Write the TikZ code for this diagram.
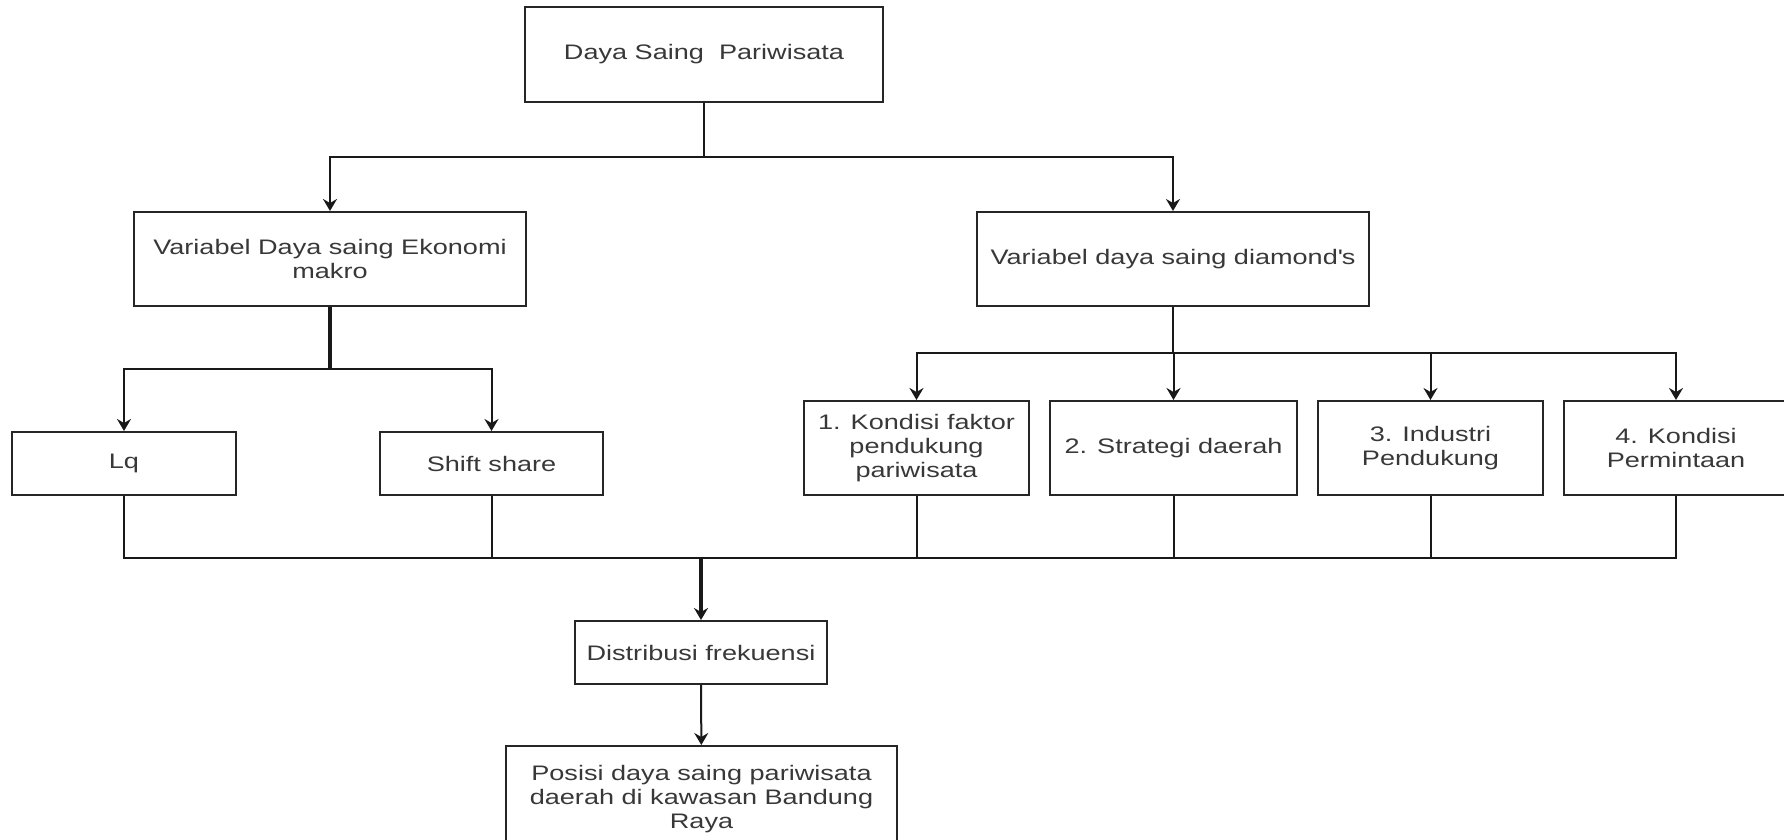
\documentclass[tikz,border=0pt]{standalone}
\usepackage{fontspec}
\setmainfont{Liberation Sans}[FakeStretch=1.29]
\usetikzlibrary{arrows.meta}

\begin{document}
\begin{tikzpicture}[x=0.5pt, y=-0.5pt,
	box/.style={draw=black!85, line width=1pt, align=center, inner sep=2pt, text=black!78, font=\fontsize{10.5}{11.8}\selectfont},
	line/.style={draw=black!90, line width=1pt},
	arr/.style={line, -{Stealth[length=6pt, width=7pt, inset=2pt]}}]
	\useasboundingbox (0,0) rectangle (1784,840);

	% boxes
	\node[box, minimum width=179pt, minimum height=47.5pt] (dsp) at (704,54.5) {Daya Saing\ \ Pariwisata};
	\node[box, minimum width=196pt, minimum height=47pt] (ekon) at (330,259) {Variabel Daya saing Ekonomi\\makro};
	\node[box, minimum width=196pt, minimum height=47pt] (diam) at (1173,259) {Variabel daya saing diamond\textquotesingle s};
	\node[box, minimum width=112pt, minimum height=31.5pt] (lq) at (124,463.5) {Lq};
	\node[box, minimum width=111.5pt, minimum height=31.5pt] (shift) at (491.5,463.5) {Shift share};
	\node[box, minimum width=112.5pt, minimum height=47pt] (k1) at (916.5,448) {1. Kondisi faktor\\pendukung\\pariwisata};
	\node[box, minimum width=123.5pt, minimum height=47pt] (k2) at (1173.5,448) {2. Strategi daerah};
	\node[box, minimum width=112.5pt, minimum height=47pt] (k3) at (1430.5,448) {3. Industri\\Pendukung};
	\node[box, minimum width=112pt, minimum height=47pt] (k4) at (1676,448) {4. Kondisi\\Permintaan};
	\node[box, minimum width=126pt, minimum height=31.5pt] (distr) at (701,652.5) {Distribusi frekuensi};
	\node[box, minimum width=195.5pt, minimum height=53pt] (posisi) at (701.5,799) {Posisi daya saing pariwisata\\daerah di kawasan Bandung\\Raya};

	\coordinate (split1) at (704,157);
	\coordinate (split2) at (330,369);
	\coordinate (split3) at (1173,353);
	\coordinate (join) at (701,558);

	% connectors
	\draw[line] (dsp) -- (split1);
	\draw[arr] (split1) -| (ekon);
	\draw[arr] (split1) -| (diam);
	\draw[line, line width=1.6pt] (ekon) -- (split2);
	\foreach \n in {lq,shift} {
		\draw[arr] (split2) -| (\n);
	}
	\draw[line] (diam) -- (split3);
	\foreach \n in {k1,k2,k3,k4} {
		\draw[arr] (split3) -| (\n);
	}
	\foreach \n in {lq,shift,k1,k2,k3,k4} {
		\draw[line] (\n.south) |- (join);
	}
	\draw[arr, line width=1.6pt] (join) -- (distr);
	\draw[arr] (distr) -- (posisi);
\end{tikzpicture}
\end{document}
